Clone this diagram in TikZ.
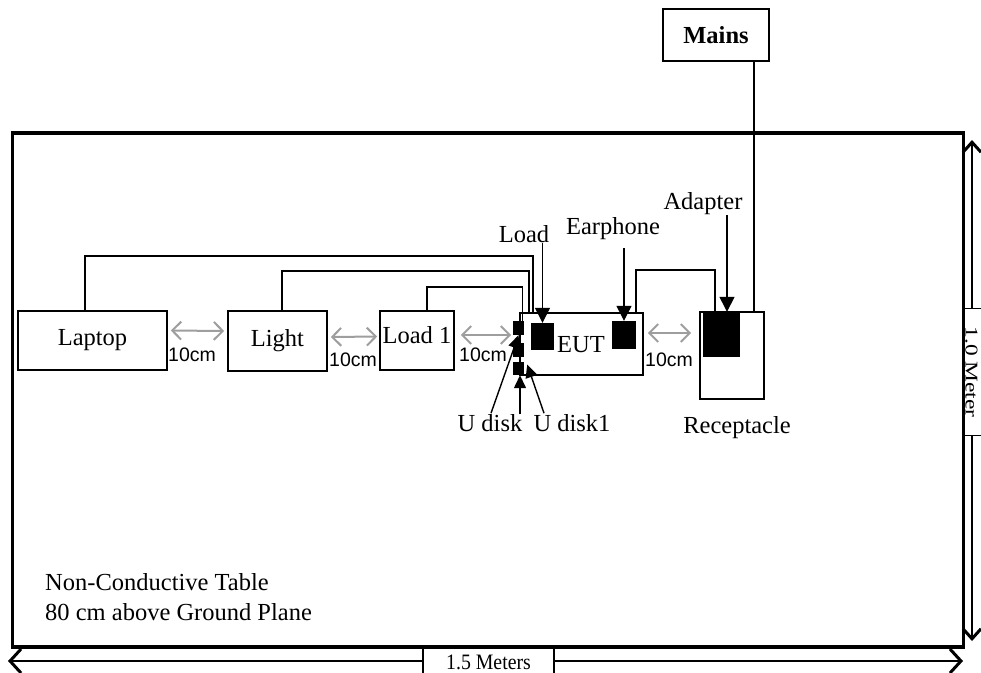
\documentclass[tikz,border=0pt]{standalone}
\usepackage{fontspec}
\setmainfont{Liberation Serif}
\newfontfamily\arialf{Liberation Sans}
\usetikzlibrary{arrows.meta}
\begin{document}
\begin{tikzpicture}[x=1pt,y=-1pt,
  box/.style={draw,line width=1.6pt,inner sep=0pt,font=\fontsize{24.5}{26}\selectfont},
  blk/.style={fill=black,inner sep=0pt},
  wire/.style={line width=1.6pt},
  ptr/.style={line width=1.4pt,-{Triangle[length=15pt,width=15pt]}},
  sptr/.style={line width=1.4pt,-{Triangle[length=13pt,width=12pt]}},
  gap/.style={draw=black!38,line width=2pt,{Straight Barb[length=9pt,width=18pt]}-{Straight Barb[length=9pt,width=18pt]}},
  lbl/.style={font=\fontsize{24.5}{26}\selectfont,inner sep=0pt},
  cmlbl/.style={font=\arialf\fontsize{19.5}{21}\selectfont,inner sep=0pt},
  dim/.style={line width=1.4pt}]
\useasboundingbox (0,0) rectangle (981,672);

% table
\node[draw,line width=3.5pt,minimum width=951pt,minimum height=514pt,inner sep=0pt] (table) at (488,390) {};
\node[lbl,anchor=west,align=left,font=\fontsize{24.5}{30}\selectfont] (tabletext) at (45,597) {Non-Conductive Table\\80 cm above Ground Plane};

% boxes
\node[box,minimum width=149pt,minimum height=59pt] (laptop) at (92.5,340.5) {Laptop};
\node[box,minimum width=99pt,minimum height=60pt] (light) at (277.5,341) {Light};
\node[box,minimum width=74pt,minimum height=59pt,text depth=12pt] (load1) at (417,340.5) {Load 1};
\node[box,minimum width=123pt,minimum height=62pt] (eut) at (581.5,344) {};
\node[lbl] (euttext) at (581,345) {EUT};
\node[box,minimum width=64pt,minimum height=87pt] (recep) at (732,355.5) {};
\node[box,minimum width=106pt,minimum height=52pt,font=\bfseries\fontsize{24.5}{26}\selectfont] (mains) at (716,35) {Mains};

% black squares
\node[blk,minimum width=37pt,minimum height=45pt] (asq) at (721.5,334.5) {};
\node[blk,minimum width=24pt,minimum height=28pt] (esq) at (624,335) {};
\node[blk,minimum width=23pt,minimum height=27pt] (lsq) at (542.5,336.5) {};
\node[blk,minimum width=11pt,minimum height=14pt] (us1) at (518.5,328) {};
\node[blk,minimum width=11pt,minimum height=14pt] (us2) at (518.5,350) {};
\node[blk,minimum width=11pt,minimum height=13pt] (us3) at (518.5,368.5) {};

% labels
\node[lbl] (loadlbl) at (524,234) {Load};
\node[lbl] (earlbl) at (613,229) {Earphone};
\node[lbl] (adlbl) at (703,204) {Adapter};
\node[lbl] (udisk) at (490,423) {U disk};
\node[lbl] (udisk1) at (572,423) {U disk1};
\node[lbl] (reclbl) at (737,428) {Receptacle};

% wires
\draw[wire] ([xshift=-7.5pt]laptop.north) -- ++(0,-54) -| ([xshift=-48.5pt]eut.north);
\draw[wire] ([xshift=4.5pt]light.north) -- ++(0,-39) -| ([xshift=-52.5pt]eut.north);
\draw[wire] ([xshift=10pt]load1.north) -- ++(0,-23) -| ([xshift=4pt]us1.north);
\draw[wire] ([xshift=54.5pt]eut.north) -- ++(0,-42) -| ([xshift=-17pt]recep.north);
\draw[wire] ([xshift=38pt]mains.south) -- ([xshift=22pt]recep.north);

% pointers
\draw[ptr] (lsq.north |- loadlbl.south) -- (lsq.north);
\draw[ptr] ([yshift=-8pt]esq.north |- earlbl.south) -- (esq.north);
\draw[ptr] ([xshift=5.5pt]asq.north |- adlbl.south) -- ([xshift=5.5pt]asq.north);
\draw[sptr] ([xshift=1pt,yshift=1pt]udisk.north) -- (us1.south);
\draw[sptr] ([xshift=1.5pt]us3.south |- udisk.north) -- ([xshift=1.5pt]us3.south);
\draw[sptr] ([xshift=-28pt,yshift=1pt]udisk1.north) -- ([shift={(3pt,4pt)}]us3.east);

% spacing arrows
\draw[gap] ([shift={(3pt,10pt)}]laptop.east) -- ([shift={(-3pt,10pt)}]light.west);
\draw[gap] ([shift={(3pt,4pt)}]light.east) -- ([shift={(-2pt,4pt)}]load1.west);
\draw[gap] ([shift={(6pt,5.5pt)}]load1.east) -- ([shift={(-8pt,9pt)}]eut.west);
\draw[gap] ([shift={(4pt,11pt)}]eut.east) -- ([shift={(-8pt,22.5pt)}]recep.west);
\node[cmlbl] (cm1) at (192,355) {10cm};
\node[cmlbl] (cm2) at (353,360) {10cm};
\node[cmlbl] (cm3) at (483,355) {10cm};
\node[cmlbl] (cm4) at (669,360) {10cm};

% dimensions
\coordinate (bl) at (8,661);
\coordinate (br) at (963,661);
\node[inner sep=0pt,minimum width=129pt] (dimb) at (488.5,662) {\fontsize{22}{24}\selectfont\scalebox{0.9}[1]{1.5 Meters}};
\draw[dim,{Straight Barb[length=11pt,width=24pt,line width=3pt]}-{Bar[width=26pt]}] (bl) -- (dimb.west |- bl);
\draw[dim,{Straight Barb[length=11pt,width=24pt,line width=3pt]}-{Bar[width=26pt]}] (br) -- (dimb.east |- br);

\coordinate (vt) at (972,140);
\coordinate (vb) at (972,641);
\node[rotate=-90,inner sep=0pt,minimum width=125pt] (dimv) at (971.5,372) {\fontsize{18}{20}\selectfont\scalebox{1.3}[1]{1.0 Meter}};
\draw[dim,{Straight Barb[length=10pt,width=18pt,line width=3pt]}-{Bar[width=18pt]}] (vt) -- (vt |- dimv.west);
\draw[dim,{Straight Barb[length=10pt,width=18pt,line width=3pt]}-{Bar[width=18pt]}] (vb) -- (vb |- dimv.east);
\end{tikzpicture}
\end{document}
